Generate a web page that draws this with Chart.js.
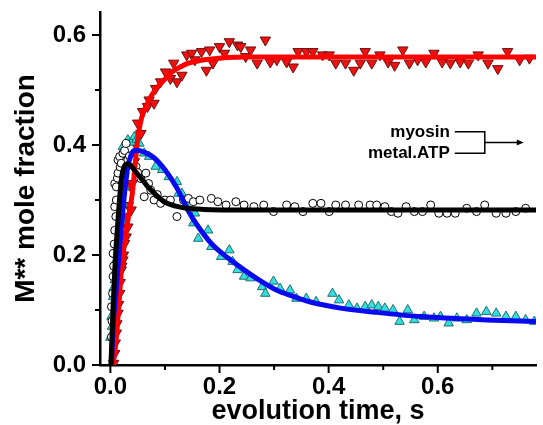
<!DOCTYPE html>
<html>
<head>
<meta charset="utf-8">
<script src="https://cdn.jsdelivr.net/npm/chart.js@4"></script>
<style>
  html, body { margin: 0; padding: 0; background: #fff; }
  #wrap { width: 543px; height: 425px; }
</style>
</head>
<body>
<div id="wrap"><canvas id="chart" width="543" height="425"></canvas></div>
<script>
// axis ticks
const xMajor = [0, 0.2, 0.4, 0.6];
const xMinor = [0.1, 0.3, 0.5, 0.7];
const yMajor = [0, 0.2, 0.4, 0.6];
const yMinor = [0.1, 0.3, 0.5];

// red: downward triangles, [time, fraction]
const redPts = [
  [0.006,0.003],[0.008,0.021],[0.009,0.040],[0.011,0.058],[0.012,0.075],[0.014,0.094],[0.015,0.110],
  [0.017,0.130],[0.018,0.150],[0.020,0.173],[0.021,0.180],[0.023,0.191],[0.024,0.200],[0.026,0.221],
  [0.029,0.233],[0.030,0.270],[0.032,0.251],[0.033,0.290],[0.035,0.327],[0.038,0.282],[0.040,0.330],
  [0.044,0.370],[0.047,0.400],[0.050,0.440],[0.053,0.418],[0.056,0.421],[0.059,0.461],[0.068,0.470],
  [0.071,0.482],[0.080,0.476],[0.083,0.503],[0.092,0.515],[0.101,0.533],[0.110,0.521],[0.116,0.549],
  [0.122,0.515],[0.131,0.527],[0.140,0.564],[0.149,0.567],[0.155,0.555],[0.167,0.570],[0.176,0.536],
  [0.182,0.573],[0.188,0.549],[0.200,0.579],[0.209,0.567],[0.218,0.588],[0.233,0.582],[0.239,0.579],
  [0.248,0.561],[0.257,0.573],[0.269,0.549],[0.284,0.591],[0.293,0.551],[0.305,0.555],[0.323,0.551],
  [0.335,0.542],[0.344,0.570],[0.359,0.570],[0.371,0.570],[0.389,0.564],[0.401,0.564],[0.413,0.549],
  [0.431,0.549],[0.446,0.536],[0.458,0.549],[0.467,0.570],[0.479,0.549],[0.494,0.564],[0.509,0.551],
  [0.521,0.545],[0.536,0.573],[0.548,0.549],[0.563,0.555],[0.578,0.551],[0.593,0.567],[0.608,0.551],
  [0.623,0.549],[0.641,0.551],[0.656,0.549],[0.674,0.564],[0.692,0.549],[0.710,0.539],[0.728,0.570],
  [0.750,0.555],[0.768,0.558]
];
const redFit = [
  [0.005,0.000],[0.010,0.040],[0.015,0.100],[0.020,0.170],[0.025,0.215],[0.030,0.250],[0.035,0.280],
  [0.040,0.310],[0.045,0.360],[0.050,0.410],[0.055,0.440],[0.060,0.458],[0.070,0.480],[0.080,0.497],
  [0.090,0.510],[0.100,0.520],[0.113,0.533],[0.130,0.543],[0.143,0.549],[0.160,0.553],[0.180,0.556],
  [0.200,0.558],[0.250,0.560],[0.400,0.560],[0.600,0.560],[0.780,0.560]
];

// cyan: upward triangles
const cyanPts = [
  [0.000,0.050],[0.002,0.088],[0.003,0.070],[0.005,0.124],[0.006,0.140],[0.008,0.155],[0.009,0.170],
  [0.011,0.191],[0.012,0.200],[0.014,0.215],[0.014,0.336],[0.016,0.230],[0.017,0.245],[0.019,0.280],
  [0.020,0.264],[0.023,0.294],[0.023,0.397],[0.026,0.324],[0.026,0.390],[0.032,0.409],[0.038,0.405],
  [0.044,0.415],[0.048,0.410],[0.053,0.403],[0.062,0.385],[0.071,0.379],[0.083,0.361],[0.095,0.355],
  [0.107,0.342],[0.122,0.333],[0.125,0.312],[0.131,0.312],[0.140,0.288],[0.152,0.258],[0.155,0.276],
  [0.161,0.230],[0.179,0.245],[0.185,0.215],[0.203,0.197],[0.218,0.209],[0.224,0.188],[0.233,0.173],
  [0.245,0.161],[0.257,0.158],[0.278,0.142],[0.284,0.130],[0.299,0.152],[0.311,0.139],[0.329,0.136],
  [0.341,0.121],[0.359,0.121],[0.377,0.115],[0.407,0.130],[0.419,0.118],[0.437,0.109],[0.452,0.103],
  [0.467,0.106],[0.479,0.109],[0.491,0.106],[0.503,0.103],[0.518,0.100],[0.530,0.079],[0.545,0.100],
  [0.557,0.082],[0.575,0.088],[0.593,0.085],[0.605,0.088],[0.620,0.076],[0.635,0.085],[0.653,0.082],
  [0.671,0.094],[0.689,0.097],[0.707,0.094],[0.725,0.088],[0.743,0.088],[0.761,0.082],[0.777,0.079]
];
const blueFit = [
  [0.002,0.000],[0.005,0.070],[0.011,0.142],[0.017,0.215],[0.022,0.270],[0.026,0.312],[0.032,0.360],
  [0.038,0.382],[0.044,0.390],[0.052,0.390],[0.062,0.387],[0.080,0.377],[0.100,0.355],[0.122,0.322],
  [0.143,0.280],[0.158,0.256],[0.185,0.221],[0.215,0.195],[0.245,0.173],[0.275,0.153],[0.305,0.136],
  [0.335,0.125],[0.365,0.115],[0.425,0.103],[0.485,0.096],[0.569,0.088],[0.689,0.082],[0.780,0.079]
];

// black: open circles
const blackPts = [
  [0.002,0.051],[0.003,0.080],[0.002,0.106],[0.004,0.130],[0.005,0.161],[0.006,0.180],[0.005,0.203],
  [0.007,0.220],[0.008,0.245],[0.010,0.270],[0.008,0.288],[0.011,0.300],[0.008,0.330],[0.011,0.324],
  [0.013,0.340],[0.014,0.349],[0.014,0.373],[0.017,0.379],[0.018,0.360],[0.020,0.367],[0.023,0.385],
  [0.026,0.390],[0.029,0.403],[0.032,0.373],[0.035,0.380],[0.041,0.373],[0.047,0.361],[0.050,0.350],
  [0.056,0.339],[0.062,0.306],[0.065,0.349],[0.070,0.330],[0.074,0.318],[0.080,0.300],[0.086,0.310],
  [0.092,0.294],[0.100,0.300],[0.110,0.300],[0.122,0.270],[0.134,0.300],[0.143,0.303],[0.152,0.297],
  [0.164,0.300],[0.185,0.303],[0.197,0.297],[0.212,0.291],[0.230,0.297],[0.245,0.291],[0.263,0.288],
  [0.281,0.291],[0.299,0.279],[0.323,0.291],[0.338,0.288],[0.353,0.279],[0.371,0.294],[0.386,0.294],
  [0.401,0.279],[0.413,0.291],[0.431,0.291],[0.455,0.291],[0.476,0.291],[0.488,0.291],[0.503,0.288],
  [0.515,0.279],[0.527,0.276],[0.542,0.288],[0.557,0.279],[0.572,0.279],[0.587,0.291],[0.602,0.276],
  [0.617,0.276],[0.632,0.276],[0.653,0.285],[0.671,0.279],[0.686,0.291],[0.707,0.276],[0.725,0.276],
  [0.743,0.279],[0.761,0.285]
];
const blackFit = [
  [0.001,0.000],[0.003,0.050],[0.005,0.106],[0.009,0.190],[0.014,0.264],[0.020,0.336],[0.026,0.362],
  [0.032,0.366],[0.038,0.362],[0.046,0.352],[0.056,0.340],[0.068,0.325],[0.080,0.313],[0.092,0.302],
  [0.104,0.294],[0.120,0.289],[0.140,0.285],[0.170,0.283],[0.250,0.282],[0.500,0.282],[0.780,0.282]
];

const legendLabels = ['myosin', 'metal.ATP'];

const toXY = arr => arr.map(p => ({ x: p[0], y: p[1] }));
const FONT = "'Liberation Sans', Arial, sans-serif";

// short outward ticks, major and minor
const tickPlugin = {
  id: 'axisTicks',
  afterDraw(chart) {
    const { ctx, chartArea, scales: { x, y } } = chart;
    ctx.save();
    ctx.strokeStyle = '#000';
    ctx.lineWidth = 2;
    ctx.beginPath();
    xMajor.forEach(v => { const p = x.getPixelForValue(v); ctx.moveTo(p, chartArea.bottom); ctx.lineTo(p, chartArea.bottom + 8); });
    xMinor.forEach(v => { const p = x.getPixelForValue(v); ctx.moveTo(p, chartArea.bottom); ctx.lineTo(p, chartArea.bottom + 5); });
    yMajor.forEach(v => { const p = y.getPixelForValue(v); ctx.moveTo(chartArea.left, p); ctx.lineTo(chartArea.left - 8, p); });
    yMinor.forEach(v => { const p = y.getPixelForValue(v); ctx.moveTo(chartArea.left, p); ctx.lineTo(chartArea.left - 5, p); });
    ctx.stroke();
    ctx.restore();
  }
};

// the "myosin / metal.ATP" bracket with arrow
const notePlugin = {
  id: 'note',
  afterDraw(chart) {
    const { ctx, scales: { x, y } } = chart;
    const tx = x.getPixelForValue(0.622);
    const y1 = y.getPixelForValue(0.424);
    const y2 = y.getPixelForValue(0.385);
    ctx.save();
    ctx.fillStyle = '#000';
    ctx.font = 'bold 17px ' + FONT;
    ctx.textAlign = 'right';
    ctx.textBaseline = 'middle';
    ctx.fillText(legendLabels[0], tx, y1);
    ctx.fillText(legendLabels[1], tx, y2);
    const bx0 = tx + 5, bx1 = tx + 35, ym = (y1 + y2) / 2;
    ctx.strokeStyle = '#000';
    ctx.lineWidth = 1.5;
    ctx.beginPath();
    ctx.moveTo(bx0, y1); ctx.lineTo(bx1, y1); ctx.lineTo(bx1, y2); ctx.lineTo(bx0, y2);
    ctx.moveTo(bx1, ym); ctx.lineTo(bx1 + 34, ym);
    ctx.stroke();
    ctx.beginPath();
    ctx.moveTo(bx1 + 39, ym); ctx.lineTo(bx1 + 32, ym - 3); ctx.lineTo(bx1 + 32, ym + 3);
    ctx.closePath();
    ctx.fill();
    ctx.restore();
  }
};

const ctx = document.getElementById('chart').getContext('2d');
new Chart(ctx, {
  type: 'scatter',
  data: {
    datasets: [
      { data: toXY(blackFit), showLine: true, borderColor: '#000', borderWidth: 5, pointRadius: 0,
        cubicInterpolationMode: 'monotone', order: 0 },
      { data: toXY(blueFit), showLine: true, borderColor: '#0a0af0', borderWidth: 5, pointRadius: 0,
        cubicInterpolationMode: 'monotone', order: 1 },
      { data: toXY(redFit), showLine: true, borderColor: '#ff0000', borderWidth: 5, pointRadius: 0,
        cubicInterpolationMode: 'monotone', order: 2 },
      { data: toXY(blackPts), pointStyle: 'circle', pointRadius: 4, backgroundColor: '#fff',
        borderColor: '#000', borderWidth: 1, order: 3 },
      { data: toXY(cyanPts), pointStyle: 'triangle', pointRadius: 5.5, backgroundColor: '#33dede',
        borderColor: '#1f6f6f', borderWidth: 1, order: 4 },
      { data: toXY(redPts), pointStyle: 'triangle', rotation: 180, pointRadius: 6, backgroundColor: '#f01010',
        borderColor: '#6a1010', borderWidth: 1, order: 5 }
    ]
  },
  options: {
    responsive: false,
    animation: false,
    layout: { padding: { top: 12, right: 0, left: 0, bottom: 0 } },
    plugins: { legend: { display: false }, tooltip: { enabled: false } },
    scales: {
      x: {
        type: 'linear', min: -0.019, max: 0.78,
        afterFit: s => { s.height = 60; s.paddingLeft = 0; s.paddingRight = 0; },
        afterBuildTicks: s => { s.ticks = xMajor.map(v => ({ value: v })); },
        grid: { drawOnChartArea: false, drawTicks: false },
        border: { display: true, color: '#000', width: 2.5 },
        ticks: { padding: 8, color: '#000', font: { family: FONT, size: 24, weight: 'bold' },
          callback: v => v.toFixed(1), maxRotation: 0, autoSkip: false },
        title: { display: true, text: 'evolution time, s', color: '#000', padding: 0,
          font: { family: FONT, size: 27, weight: 'bold', lineHeight: 1 } }
      },
      y: {
        type: 'linear', min: 0, max: 0.642,
        afterFit: s => { s.width = 100; s.paddingTop = 0; s.paddingBottom = 0; },
        afterBuildTicks: s => { s.ticks = yMajor.map(v => ({ value: v })); },
        grid: { drawOnChartArea: false, drawTicks: false },
        border: { display: true, color: '#000', width: 2.5 },
        ticks: { padding: 14, color: '#000', font: { family: FONT, size: 24, weight: 'bold' },
          callback: v => v.toFixed(1) },
        title: { display: true, text: 'M** mole fraction', color: '#000', padding: { top: 12 },
          font: { family: FONT, size: 28, weight: 'bold', lineHeight: 1 } }
      }
    }
  },
  plugins: [tickPlugin, notePlugin]
});
</script>
</body>
</html>
